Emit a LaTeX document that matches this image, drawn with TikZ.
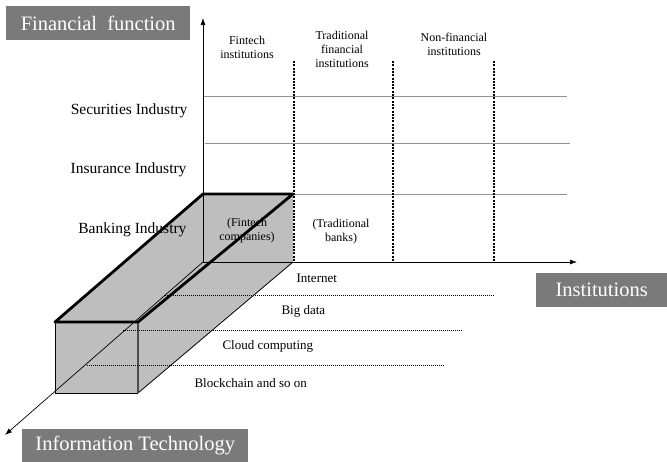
\documentclass[tikz,border=0pt]{standalone}
\usepackage{fontspec}
\setmainfont{Liberation Serif}
\usetikzlibrary{arrows.meta}
\definecolor{tagfill}{HTML}{7A7A7A}
\definecolor{boxfill}{HTML}{BEBEBE}
\begin{document}
\begin{tikzpicture}[x=1pt,y=-1pt,
  tag/.style={fill=tagfill,text=white,font=\fontsize{20.5}{23}\selectfont,inner sep=0pt,anchor=north west},
  rowlab/.style={font=\fontsize{15.5}{18}\selectfont,anchor=east},
  collab/.style={font=\fontsize{12}{14}\selectfont,align=center},
  techlab/.style={font=\fontsize{13}{15}\selectfont,anchor=west},
  grid/.style={draw=gray!85,line width=0.9pt},
  sep/.style={line width=2pt,dash pattern=on 2pt off 1.3pt},
  tech/.style={line width=0.9pt,dash pattern=on 1pt off 1pt},
  axis/.style={line width=0.7pt,-{Latex[length=7pt,width=5pt]}},
  thick edge/.style={line width=2.8pt,line cap=round,line join=round}]
\useasboundingbox (0,0) rectangle (667,461);
% coordinates
\coordinate (O) at (203,262);
\coordinate (Ytop) at (203,18);
\coordinate (Xend) at (577,262);
\coordinate (Zend) at (5,435);
\coordinate (B1) at (203,194);
\coordinate (B2) at (293,194);
\coordinate (B3) at (293,262);
\coordinate (N1) at (55,322);
\coordinate (N2) at (138,322);
\coordinate (N3) at (138,393);
\coordinate (N4) at (55,393);
% grid lines
\coordinate (g1a) at (203,96);  \coordinate (g1b) at (567,96);
\coordinate (g2a) at (205,143); \coordinate (g2b) at (570,143);
\coordinate (g3a) at (293,194); \coordinate (g3b) at (567,194);
\draw[grid] (g1a) -- (g1b);
\draw[grid] (g2a) -- (g2b);
\draw[grid] (g3a) -- (g3b);
% box
\fill[boxfill] (N1) -- (B1) -- (B2) -- (B3) -- (N3) -- (N4) -- cycle;
\draw[line width=0.6pt,gray!70!black] (B1) -- (O) -- (B3);
\draw[line width=0.8pt] (N2) -- (B2) (B3) -- (N3);
\draw[line width=0.8pt] (N1) -- (N4) -- (N3);
\draw[line width=1.6pt,black!70] (N2) -- (N3);
\draw[thick edge] (N1) -- (B1) -- (B2) -- (N2) -- cycle;
% tech dotted lines
\coordinate (t1a) at (165,295); \coordinate (t1b) at (494,295);
\coordinate (t2a) at (123,330); \coordinate (t2b) at (463,330);
\coordinate (t3a) at (87,365);  \coordinate (t3b) at (445,365);
\draw[tech] (t1a) -- (t1b);
\draw[tech] (t2a) -- (t2b);
\draw[tech] (t3a) -- (t3b);
% separators
\coordinate (s1a) at (294,61); \coordinate (s1b) at (294,262);
\coordinate (s2a) at (393,61); \coordinate (s2b) at (393,262);
\coordinate (s3a) at (494,61); \coordinate (s3b) at (494,262);
\draw[sep] (s1a) -- (s1b);
\draw[sep] (s2a) -- (s2b);
\draw[sep] (s3a) -- (s3b);
% axes
\draw[axis] (O) -- (Ytop);
\draw[axis] (O) -- (Xend);
\draw[axis] (O) -- (Zend);
% tags
\node[tag,minimum width=184pt,minimum height=34pt] (ff) at (6,6) {Financial\ \ function};
\node[tag,minimum width=131pt,minimum height=34pt] (inst) at (536,273) {Institutions};
\node[tag,minimum width=226pt,minimum height=33pt] (it) at (22,429) {Information Technology};
% row labels
\node[rowlab] (sec) at (191,111) {Securities Industry};
\node[rowlab] (ins) at (190,170) {Insurance Industry};
\node[rowlab] (bank) at (190,230) {Banking Industry};
% column labels
\node[collab] (c1) at (247,47) {Fintech\\institutions};
\node[collab] (c2) at (342,49) {Traditional\\financial\\institutions};
\node[collab] (c3) at (454,44) {Non-financial\\institutions};
% cell labels
\node[collab] (fc) at (247,231) {(Fintech\\companies)};
\node[collab] (tb) at (341,232) {(Traditional\\banks)};
% tech labels
\node[techlab] (l1) at (293,278) {Internet};
\node[techlab] (l2) at (278,311) {Big data};
\node[techlab] (l3) at (219,346) {Cloud computing};
\node[techlab] (l4) at (191,383) {Blockchain and so on};
\end{tikzpicture}
\end{document}
